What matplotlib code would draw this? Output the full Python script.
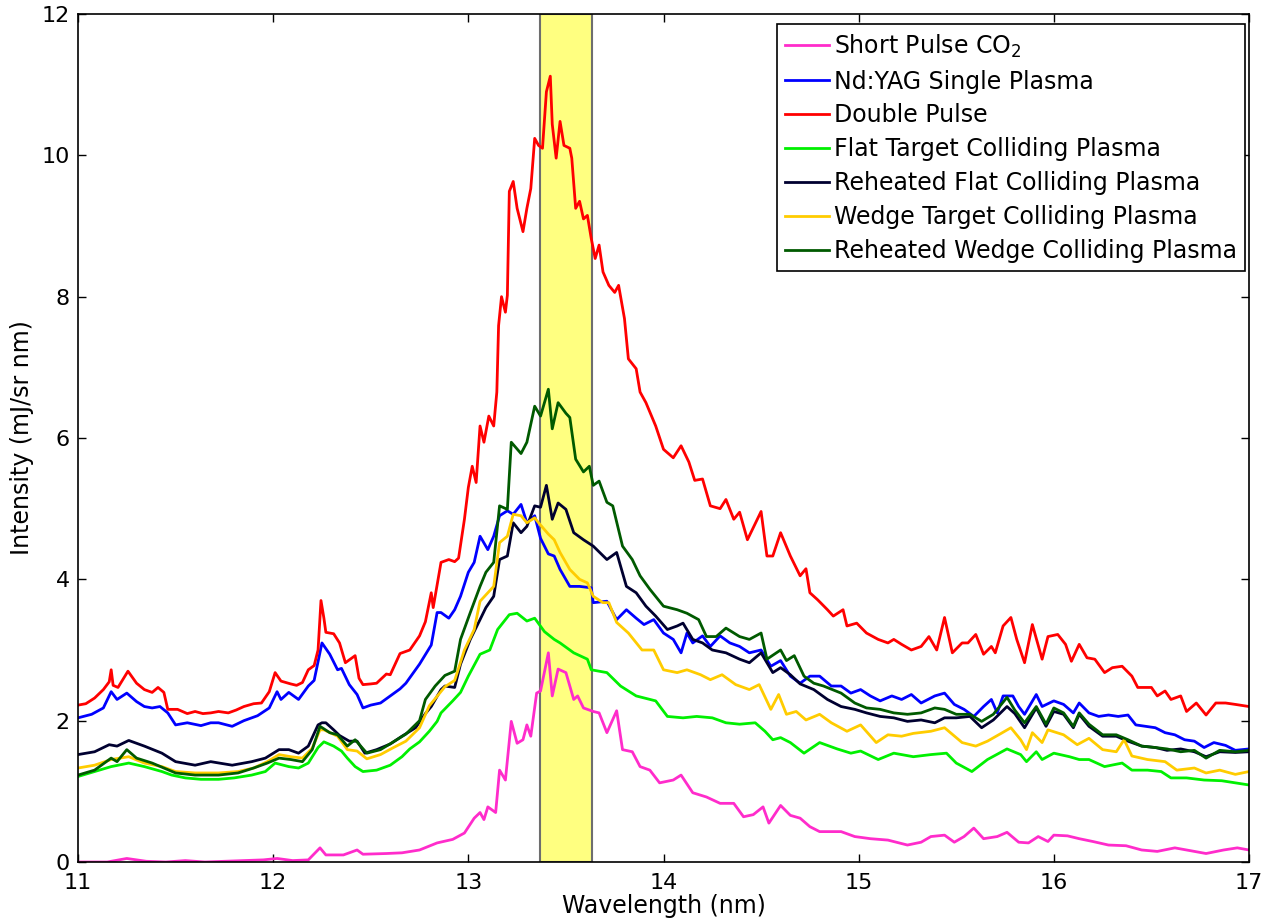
import matplotlib
matplotlib.use("Agg")
import matplotlib.pyplot as plt

plt.rcParams['font.family'] = ['DejaVu Sans']
plt.rcParams['mathtext.fontset'] = 'dejavusans'

# EUV band (2% bandwidth around 13.5 nm)
band = (13.365, 13.635)

# Short Pulse CO2
co2_nm = [11.00, 11.15, 11.25, 11.35, 11.45, 11.55, 11.65, 11.75, 11.85, 11.95, 12.02, 12.10, 12.18,
          12.24, 12.27, 12.36, 12.43, 12.46, 12.58, 12.66, 12.75, 12.84, 12.92, 12.98, 13.03, 13.06,
          13.08, 13.10, 13.14, 13.16, 13.19, 13.22, 13.25, 13.28, 13.30, 13.32, 13.35, 13.37, 13.41,
          13.43, 13.46, 13.50, 13.54, 13.56, 13.59, 13.64, 13.67, 13.71, 13.76, 13.79, 13.84, 13.88,
          13.93, 13.98, 14.05, 14.09, 14.15, 14.22, 14.29, 14.36, 14.41, 14.46, 14.51, 14.54, 14.60,
          14.65, 14.70, 14.75, 14.80, 14.91, 14.98, 15.06, 15.15, 15.25, 15.32, 15.37, 15.44, 15.49,
          15.54, 15.59, 15.64, 15.71, 15.76, 15.82, 15.87, 15.92, 15.97, 16.00, 16.07, 16.13, 16.20,
          16.28, 16.37, 16.45, 16.53, 16.62, 16.70, 16.78, 16.87, 16.94, 17.00]
co2_val = [0.00, 0.00, 0.05, 0.01, 0.00, 0.02, 0.00, 0.01, 0.02, 0.03, 0.05, 0.02, 0.03,
           0.20, 0.10, 0.10, 0.17, 0.11, 0.12, 0.13, 0.17, 0.27, 0.32, 0.41, 0.62, 0.70,
           0.60, 0.78, 0.70, 1.30, 1.16, 1.99, 1.68, 1.73, 1.94, 1.78, 2.39, 2.42, 2.96,
           2.35, 2.73, 2.68, 2.30, 2.35, 2.18, 2.13, 2.11, 1.83, 2.14, 1.59, 1.56, 1.35,
           1.30, 1.12, 1.16, 1.23, 0.98, 0.92, 0.83, 0.83, 0.64, 0.67, 0.78, 0.55, 0.80,
           0.66, 0.62, 0.50, 0.43, 0.43, 0.36, 0.33, 0.31, 0.24, 0.28, 0.36, 0.38, 0.28,
           0.36, 0.48, 0.33, 0.36, 0.42, 0.28, 0.27, 0.36, 0.29, 0.38, 0.37, 0.33, 0.29,
           0.24, 0.23, 0.17, 0.15, 0.20, 0.16, 0.12, 0.17, 0.20, 0.17]

# Nd:YAG Single Plasma
yag_nm = [11.00, 11.07, 11.13, 11.17, 11.20, 11.25, 11.30, 11.34, 11.38, 11.42, 11.46, 11.50, 11.56,
          11.63, 11.68, 11.72, 11.79, 11.85, 11.92, 11.98, 12.02, 12.04, 12.08, 12.13, 12.18, 12.21,
          12.25, 12.29, 12.33, 12.35, 12.39, 12.43, 12.46, 12.50, 12.55, 12.60, 12.65, 12.68, 12.75,
          12.81, 12.84, 12.86, 12.90, 12.93, 12.96, 13.00, 13.03, 13.06, 13.10, 13.13, 13.16, 13.20,
          13.23, 13.27, 13.30, 13.34, 13.37, 13.41, 13.44, 13.47, 13.52, 13.57, 13.63, 13.64, 13.71,
          13.76, 13.81, 13.86, 13.90, 13.95, 14.00, 14.05, 14.09, 14.12, 14.15, 14.20, 14.24, 14.29,
          14.34, 14.39, 14.44, 14.50, 14.55, 14.60, 14.65, 14.70, 14.75, 14.80, 14.86, 14.91, 14.96,
          15.01, 15.06, 15.11, 15.17, 15.22, 15.27, 15.32, 15.39, 15.44, 15.49, 15.54, 15.59, 15.64,
          15.68, 15.71, 15.74, 15.79, 15.82, 15.85, 15.91, 15.94, 16.00, 16.05, 16.10, 16.13, 16.18,
          16.23, 16.28, 16.33, 16.38, 16.42, 16.47, 16.52, 16.57, 16.62, 16.67, 16.72, 16.77, 16.82,
          16.88, 16.93, 17.00]
yag_val = [2.04, 2.09, 2.18, 2.41, 2.30, 2.39, 2.27, 2.20, 2.18, 2.20, 2.11, 1.94, 1.97,
           1.93, 1.97, 1.97, 1.92, 2.00, 2.07, 2.18, 2.41, 2.30, 2.40, 2.30, 2.49, 2.57,
           3.10, 2.94, 2.72, 2.74, 2.51, 2.37, 2.18, 2.22, 2.25, 2.35, 2.45, 2.53, 2.80,
           3.07, 3.53, 3.53, 3.45, 3.57, 3.76, 4.10, 4.24, 4.61, 4.42, 4.61, 4.90, 4.97,
           4.92, 5.06, 4.80, 4.90, 4.58, 4.36, 4.33, 4.14, 3.90, 3.90, 3.88, 3.67, 3.69,
           3.43, 3.57, 3.45, 3.36, 3.43, 3.24, 3.15, 2.96, 3.24, 3.10, 3.20, 3.05, 3.20,
           3.10, 3.05, 2.96, 3.00, 2.77, 2.85, 2.63, 2.53, 2.63, 2.63, 2.49, 2.49, 2.39,
           2.44, 2.35, 2.28, 2.35, 2.30, 2.37, 2.25, 2.35, 2.39, 2.23, 2.16, 2.06, 2.20,
           2.30, 2.11, 2.35, 2.35, 2.20, 2.09, 2.37, 2.20, 2.28, 2.23, 2.11, 2.25, 2.11,
           2.06, 2.08, 2.06, 2.08, 1.94, 1.92, 1.90, 1.83, 1.80, 1.73, 1.71, 1.62, 1.69,
           1.65, 1.58, 1.60]

# Double Pulse
dp_nm = [11.00, 11.04, 11.085, 11.13, 11.16, 11.17, 11.18, 11.205, 11.256, 11.30, 11.34, 11.38, 11.41,
         11.44, 11.46, 11.51, 11.56, 11.60, 11.64, 11.68, 11.72, 11.77, 11.81, 11.85, 11.90, 11.94,
         11.98, 12.01, 12.04, 12.09, 12.12, 12.15, 12.18, 12.21, 12.23, 12.245, 12.26, 12.27, 12.31,
         12.34, 12.37, 12.40, 12.42, 12.44, 12.46, 12.50, 12.53, 12.58, 12.60, 12.65, 12.70, 12.75,
         12.78, 12.81, 12.82, 12.86, 12.90, 12.93, 12.95, 12.98, 13.00, 13.02, 13.04, 13.06, 13.08,
         13.105, 13.13, 13.146, 13.155, 13.17, 13.19, 13.20, 13.21, 13.23, 13.25, 13.28, 13.30, 13.32,
         13.34, 13.36, 13.38, 13.40, 13.42, 13.43, 13.45, 13.47, 13.49, 13.52, 13.53, 13.55, 13.57,
         13.59, 13.61, 13.63, 13.65, 13.67, 13.69, 13.72, 13.75, 13.77, 13.80, 13.82, 13.86, 13.88,
         13.91, 13.96, 14.00, 14.05, 14.09, 14.13, 14.16, 14.20, 14.24, 14.29, 14.32, 14.36, 14.39,
         14.43, 14.50, 14.53, 14.56, 14.60, 14.65, 14.70, 14.73, 14.75, 14.79, 14.84, 14.87, 14.92,
         14.94, 14.99, 15.04, 15.10, 15.15, 15.18, 15.22, 15.27, 15.32, 15.36, 15.40, 15.44, 15.48,
         15.53, 15.56, 15.60, 15.64, 15.68, 15.70, 15.74, 15.78, 15.81, 15.85, 15.89, 15.94, 15.97,
         16.02, 16.06, 16.09, 16.13, 16.17, 16.21, 16.26, 16.30, 16.35, 16.40, 16.43, 16.50, 16.53,
         16.57, 16.60, 16.65, 16.68, 16.73, 16.78, 16.83, 16.88, 16.93, 17.00]
dp_val = [2.22, 2.24, 2.32, 2.44, 2.55, 2.72, 2.50, 2.47, 2.70, 2.53, 2.44, 2.40, 2.47,
          2.40, 2.16, 2.16, 2.10, 2.13, 2.10, 2.11, 2.13, 2.11, 2.15, 2.20, 2.24, 2.25,
          2.41, 2.68, 2.56, 2.52, 2.50, 2.54, 2.72, 2.78, 3.00, 3.70, 3.45, 3.25, 3.23,
          3.10, 2.82, 2.88, 2.92, 2.60, 2.51, 2.52, 2.53, 2.66, 2.65, 2.95, 3.00, 3.20,
          3.40, 3.81, 3.60, 4.24, 4.28, 4.25, 4.30, 4.85, 5.30, 5.60, 5.37, 6.17, 5.94,
          6.31, 6.17, 6.65, 7.59, 8.00, 7.78, 8.02, 9.49, 9.63, 9.25, 8.92, 9.25, 9.53,
          10.24, 10.14, 10.10, 10.90, 11.12, 10.44, 9.96, 10.48, 10.14, 10.10, 9.96, 9.25, 9.35,
          9.10, 9.15, 8.82, 8.54, 8.73, 8.35, 8.16, 8.06, 8.16, 7.69, 7.12, 6.98, 6.65,
          6.50, 6.17, 5.84, 5.72, 5.89, 5.66, 5.40, 5.42, 5.04, 5.00, 5.13, 4.85, 4.95,
          4.56, 4.96, 4.33, 4.33, 4.66, 4.33, 4.05, 4.15, 3.81, 3.71, 3.57, 3.48, 3.57,
          3.34, 3.38, 3.24, 3.15, 3.10, 3.15, 3.08, 3.00, 3.05, 3.19, 3.00, 3.46, 2.96,
          3.10, 3.10, 3.22, 2.94, 3.05, 2.96, 3.34, 3.46, 3.15, 2.82, 3.36, 2.87, 3.19,
          3.22, 3.08, 2.84, 3.08, 2.89, 2.87, 2.68, 2.75, 2.77, 2.63, 2.47, 2.47, 2.35,
          2.42, 2.30, 2.35, 2.13, 2.25, 2.08, 2.25, 2.25, 2.23, 2.20]

# Flat Target Colliding Plasma
flat_nm = [11.00, 11.085, 11.17, 11.26, 11.34, 11.43, 11.48, 11.55, 11.63, 11.72, 11.80, 11.89, 11.96,
           12.01, 12.08, 12.13, 12.18, 12.23, 12.26, 12.31, 12.35, 12.38, 12.42, 12.46, 12.53, 12.60,
           12.66, 12.70, 12.75, 12.80, 12.84, 12.86, 12.92, 12.96, 13.00, 13.06, 13.11, 13.15, 13.21,
           13.25, 13.30, 13.34, 13.39, 13.44, 13.47, 13.54, 13.61, 13.63, 13.71, 13.78, 13.86, 13.96,
           14.02, 14.10, 14.17, 14.25, 14.32, 14.39, 14.47, 14.52, 14.56, 14.60, 14.65, 14.72, 14.80,
           14.89, 14.96, 15.01, 15.10, 15.18, 15.28, 15.37, 15.45, 15.50, 15.58, 15.66, 15.76, 15.83,
           15.86, 15.91, 15.94, 16.00, 16.08, 16.13, 16.18, 16.26, 16.35, 16.40, 16.48, 16.55, 16.60,
           16.68, 16.77, 16.86, 16.93, 17.00]
flat_val = [1.21, 1.28, 1.35, 1.40, 1.35, 1.28, 1.23, 1.19, 1.17, 1.17, 1.19, 1.23, 1.28,
            1.40, 1.35, 1.33, 1.40, 1.62, 1.70, 1.64, 1.57, 1.47, 1.35, 1.28, 1.30, 1.37,
            1.49, 1.60, 1.70, 1.85, 1.99, 2.11, 2.28, 2.40, 2.63, 2.94, 3.00, 3.29, 3.50,
            3.52, 3.41, 3.45, 3.26, 3.15, 3.10, 2.96, 2.87, 2.72, 2.68, 2.49, 2.35, 2.28,
            2.06, 2.04, 2.06, 2.04, 1.97, 1.95, 1.97, 1.85, 1.73, 1.76, 1.69, 1.54, 1.69,
            1.60, 1.54, 1.57, 1.45, 1.54, 1.49, 1.52, 1.54, 1.40, 1.28, 1.45, 1.60, 1.52,
            1.42, 1.56, 1.45, 1.54, 1.49, 1.45, 1.45, 1.35, 1.40, 1.30, 1.30, 1.28, 1.19,
            1.19, 1.16, 1.15, 1.12, 1.09]

# Reheated Flat Colliding Plasma
rflat_nm = [11.00, 11.085, 11.16, 11.20, 11.26, 11.34, 11.43, 11.50, 11.60, 11.68, 11.79, 11.89, 11.96,
            12.03, 12.08, 12.13, 12.18, 12.23, 12.25, 12.27, 12.31, 12.34, 12.39, 12.43, 12.47, 12.53,
            12.60, 12.66, 12.73, 12.78, 12.81, 12.86, 12.88, 12.93, 12.96, 13.01, 13.06, 13.09, 13.13,
            13.16, 13.20, 13.23, 13.27, 13.30, 13.34, 13.37, 13.40, 13.43, 13.46, 13.50, 13.54, 13.59,
            13.64, 13.71, 13.76, 13.81, 13.86, 13.91, 13.96, 14.02, 14.07, 14.10, 14.15, 14.20, 14.25,
            14.32, 14.39, 14.44, 14.50, 14.56, 14.60, 14.65, 14.70, 14.77, 14.84, 14.91, 14.98, 15.04,
            15.11, 15.18, 15.25, 15.32, 15.39, 15.44, 15.50, 15.57, 15.63, 15.69, 15.76, 15.80, 15.85,
            15.91, 15.96, 16.00, 16.05, 16.10, 16.13, 16.18, 16.25, 16.32, 16.38, 16.45, 16.52, 16.58,
            16.65, 16.72, 16.78, 16.85, 16.93, 17.00]
rflat_val = [1.52, 1.56, 1.66, 1.64, 1.72, 1.64, 1.54, 1.42, 1.37, 1.42, 1.37, 1.42, 1.47,
             1.59, 1.59, 1.54, 1.64, 1.94, 1.97, 1.97, 1.87, 1.79, 1.71, 1.71, 1.54, 1.59,
             1.67, 1.78, 1.90, 2.10, 2.20, 2.44, 2.49, 2.47, 2.80, 3.15, 3.43, 3.60, 3.76,
             4.28, 4.33, 4.80, 4.66, 4.75, 5.04, 5.02, 5.33, 4.85, 5.08, 4.99, 4.66, 4.56,
             4.47, 4.28, 4.38, 3.90, 3.81, 3.62, 3.48, 3.29, 3.34, 3.38, 3.15, 3.10, 3.00,
             2.96, 2.87, 2.82, 2.96, 2.68, 2.75, 2.65, 2.52, 2.44, 2.30, 2.20, 2.16, 2.11,
             2.06, 2.04, 1.99, 2.01, 1.97, 2.04, 2.04, 2.06, 1.90, 2.01, 2.20, 2.10, 1.90,
             2.18, 1.92, 2.13, 2.09, 1.90, 2.09, 1.92, 1.78, 1.78, 1.71, 1.64, 1.62, 1.58,
             1.60, 1.56, 1.49, 1.56, 1.55, 1.56]

# Wedge Target Colliding Plasma
wedge_nm = [11.00, 11.085, 11.17, 11.26, 11.34, 11.43, 11.50, 11.60, 11.72, 11.82, 11.90, 11.97, 12.03,
            12.09, 12.15, 12.20, 12.24, 12.26, 12.33, 12.38, 12.43, 12.48, 12.55, 12.61, 12.68, 12.75,
            12.80, 12.88, 12.93, 12.98, 13.03, 13.06, 13.10, 13.13, 13.16, 13.20, 13.23, 13.27, 13.30,
            13.34, 13.36, 13.41, 13.44, 13.47, 13.52, 13.57, 13.61, 13.64, 13.69, 13.72, 13.76, 13.82,
            13.89, 13.95, 14.00, 14.07, 14.12, 14.19, 14.24, 14.30, 14.37, 14.44, 14.49, 14.55, 14.59,
            14.63, 14.68, 14.73, 14.80, 14.86, 14.94, 15.01, 15.09, 15.15, 15.22, 15.28, 15.37, 15.44,
            15.53, 15.60, 15.66, 15.73, 15.78, 15.83, 15.86, 15.89, 15.94, 15.97, 16.05, 16.12, 16.18,
            16.25, 16.32, 16.36, 16.40, 16.48, 16.57, 16.63, 16.72, 16.78, 16.85, 16.93, 17.00]
wedge_val = [1.33, 1.37, 1.45, 1.49, 1.40, 1.35, 1.28, 1.26, 1.26, 1.28, 1.33, 1.42, 1.52,
             1.49, 1.47, 1.61, 1.87, 1.87, 1.78, 1.59, 1.57, 1.46, 1.52, 1.61, 1.71, 1.90,
             2.21, 2.48, 2.57, 3.00, 3.29, 3.69, 3.81, 3.90, 4.52, 4.61, 4.92, 4.90, 4.80,
             4.87, 4.80, 4.64, 4.56, 4.38, 4.14, 4.00, 3.95, 3.76, 3.67, 3.67, 3.39, 3.24,
             3.00, 3.00, 2.72, 2.68, 2.72, 2.65, 2.58, 2.65, 2.51, 2.44, 2.51, 2.16, 2.37,
             2.09, 2.13, 2.01, 2.09, 1.97, 1.85, 1.94, 1.69, 1.80, 1.78, 1.82, 1.85, 1.90,
             1.69, 1.64, 1.71, 1.82, 1.90, 1.73, 1.59, 1.83, 1.69, 1.87, 1.80, 1.66, 1.75,
             1.59, 1.56, 1.73, 1.50, 1.45, 1.42, 1.30, 1.33, 1.26, 1.30, 1.24, 1.28]

# Reheated Wedge Colliding Plasma
rwedge_nm = [11.00, 11.085, 11.17, 11.20, 11.25, 11.30, 11.38, 11.44, 11.50, 11.60, 11.72, 11.82, 11.90,
             11.97, 12.03, 12.09, 12.15, 12.20, 12.24, 12.29, 12.33, 12.38, 12.42, 12.48, 12.55, 12.61,
             12.68, 12.75, 12.78, 12.83, 12.88, 12.93, 12.96, 13.01, 13.06, 13.09, 13.13, 13.16, 13.20,
             13.22, 13.27, 13.30, 13.34, 13.37, 13.41, 13.43, 13.46, 13.50, 13.52, 13.55, 13.59, 13.62,
             13.64, 13.67, 13.71, 13.74, 13.79, 13.84, 13.88, 13.93, 14.00, 14.07, 14.12, 14.18, 14.22,
             14.27, 14.32, 14.39, 14.44, 14.50, 14.53, 14.60, 14.63, 14.67, 14.72, 14.77, 14.82, 14.91,
             14.98, 15.04, 15.11, 15.18, 15.25, 15.32, 15.39, 15.44, 15.50, 15.57, 15.63, 15.69, 15.76,
             15.80, 15.85, 15.91, 15.96, 16.00, 16.05, 16.10, 16.13, 16.18, 16.25, 16.32, 16.38, 16.45,
             16.52, 16.58, 16.65, 16.72, 16.78, 16.85, 16.93, 17.00]
rwedge_val = [1.23, 1.30, 1.47, 1.42, 1.59, 1.47, 1.40, 1.33, 1.26, 1.23, 1.23, 1.26, 1.33,
              1.40, 1.47, 1.45, 1.42, 1.59, 1.92, 1.83, 1.80, 1.64, 1.73, 1.54, 1.59, 1.69,
              1.81, 2.00, 2.30, 2.49, 2.64, 2.70, 3.15, 3.53, 3.90, 4.10, 4.24, 5.04, 4.99,
              5.94, 5.78, 5.94, 6.45, 6.31, 6.69, 6.13, 6.50, 6.35, 6.29, 5.70, 5.52, 5.60,
              5.33, 5.39, 5.09, 5.04, 4.47, 4.28, 4.05, 3.86, 3.62, 3.57, 3.52, 3.43, 3.19,
              3.19, 3.31, 3.19, 3.15, 3.24, 2.87, 3.00, 2.85, 2.92, 2.63, 2.53, 2.49, 2.39,
              2.25, 2.18, 2.16, 2.11, 2.09, 2.11, 2.18, 2.16, 2.09, 2.09, 1.99, 2.09, 2.33,
              2.15, 1.97, 2.20, 1.95, 2.18, 2.11, 1.92, 2.11, 1.95, 1.80, 1.80, 1.73, 1.64,
              1.62, 1.60, 1.56, 1.58, 1.47, 1.58, 1.56, 1.58]

series = [
    (co2_nm, co2_val, '#ff2ccb', 'Short Pulse CO$_2$'),
    (yag_nm, yag_val, '#0000ff', 'Nd:YAG Single Plasma'),
    (dp_nm, dp_val, '#ff0000', 'Double Pulse'),
    (flat_nm, flat_val, '#00f000', 'Flat Target Colliding Plasma'),
    (rflat_nm, rflat_val, '#000030', 'Reheated Flat Colliding Plasma'),
    (wedge_nm, wedge_val, '#ffcc00', 'Wedge Target Colliding Plasma'),
    (rwedge_nm, rwedge_val, '#005a00', 'Reheated Wedge Colliding Plasma'),
]

fig = plt.figure(figsize=(12.64, 9.24), dpi=100)
ax = fig.add_axes([78 / 1264, 62 / 924, 1171 / 1264, 848 / 924])

ax.axvspan(band[0], band[1], facecolor='#ffff80', edgecolor='#6e6e6e', linewidth=1.5, zorder=1)

for nm, val, col, lab in series:
    ax.plot(nm, val, color=col, linewidth=2.0, label=lab, zorder=2)

ax.set_xlim(11, 17)
ax.set_ylim(0, 12)
ax.set_xticks([11, 12, 13, 14, 15, 16, 17])
ax.set_yticks([0, 2, 4, 6, 8, 10, 12])
ax.tick_params(direction='in', top=True, right=True, length=6, width=1, labelsize=16)
ax.tick_params(axis='x', pad=8)
ax.tick_params(axis='y', pad=6)
for s in ax.spines.values():
    s.set_linewidth(1.2)

ax.set_xlabel('Wavelength (nm)', fontsize=17, labelpad=1)
ax.set_ylabel('Intensity (mJ/sr nm)', fontsize=17, labelpad=5)

leg = ax.legend(loc='upper right', bbox_to_anchor=(0.9966, 0.988), fontsize=17,
                frameon=True, fancybox=False, edgecolor='black', framealpha=1,
                borderaxespad=0, handlelength=1.85, handletextpad=0.2, labelspacing=0.42,
                borderpad=0.35)
leg.get_frame().set_linewidth(1.2)

fig.savefig('out.png', dpi=100)
